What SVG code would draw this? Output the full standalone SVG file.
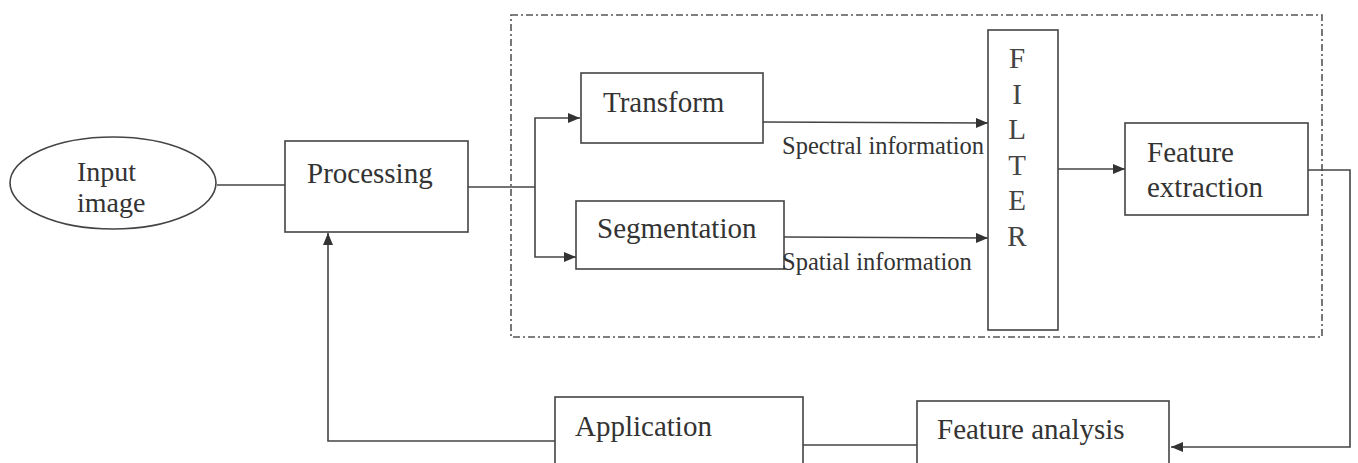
<svg xmlns="http://www.w3.org/2000/svg" width="1358" height="463" viewBox="0 0 1358 463">
<style>
.box{fill:#fff;stroke:#444;stroke-width:1.6}
.t{font-family:"Liberation Serif","Times New Roman",serif;font-size:29px;fill:#333}
.i{font-family:"Liberation Serif","Times New Roman",serif;font-size:28px;fill:#333}
.s{font-family:"Liberation Serif","Times New Roman",serif;font-size:24.5px;fill:#333}
.f{font-family:"Liberation Serif","Times New Roman",serif;font-size:29px;fill:#444;text-anchor:middle}
.ln{fill:none;stroke:#444;stroke-width:1.6}
.dash{fill:none;stroke:#555;stroke-width:1.6;stroke-dasharray:7 3 2 3}
</style>
<defs>
<marker id="arr" viewBox="0 0 12 10" refX="12" refY="5" markerWidth="12" markerHeight="10" markerUnits="userSpaceOnUse" orient="auto">
<path d="M0,0 L12,5 L0,10 z" fill="#333"/>
</marker>
</defs>
<rect class="dash" x="511" y="15" width="811" height="322"/>
<g id="connectors">
<line class="ln" x1="217" y1="185" x2="285" y2="185"/>
<polyline class="ln" points="468,187 535,187"/>
<polyline class="ln" points="535,187 535,118 580,118" marker-end="url(#arr)"/>
<polyline class="ln" points="535,187 535,257 576,257" marker-end="url(#arr)"/>
<line class="ln" x1="763" y1="122" x2="988" y2="123" marker-end="url(#arr)"/>
<line class="ln" x1="784" y1="237" x2="988" y2="238" marker-end="url(#arr)"/>
<line class="ln" x1="1058" y1="169" x2="1125" y2="169" marker-end="url(#arr)"/>
<polyline class="ln" points="1308,170 1350,170 1350,447 1171,447" marker-end="url(#arr)"/>
<line class="ln" x1="803" y1="445" x2="917" y2="445"/>
<polyline class="ln" points="555,441 328,441 328,233" marker-end="url(#arr)"/>
</g>
<g id="input-image">
<ellipse class="box" cx="113" cy="183" rx="103" ry="46"/>
<text class="i" x="77" y="181">Input</text>
<text class="i" x="77" y="212">image</text>
</g>
<g id="processing">
<rect class="box" x="285" y="141" width="183" height="91"/>
<text class="t" x="307" y="183">Processing</text>
</g>
<g id="transform">
<rect class="box" x="581" y="73" width="182" height="70"/>
<text class="t" x="603" y="112">Transform</text>
</g>
<g id="segmentation">
<rect class="box" x="576" y="201" width="208" height="68"/>
<text class="t" x="597" y="238">Segmentation</text>
</g>
<text class="s" x="782" y="154">Spectral information</text>
<text class="s" x="782" y="270">Spatial information</text>
<g id="filter">
<rect class="box" x="988" y="30" width="70" height="300"/>
<text class="f" x="1017" y="68">F</text>
<text class="f" x="1017" y="103.5">I</text>
<text class="f" x="1017" y="139">L</text>
<text class="f" x="1017" y="174.5">T</text>
<text class="f" x="1017" y="210">E</text>
<text class="f" x="1017" y="245.5">R</text>
</g>
<g id="feature-extraction">
<rect class="box" x="1125" y="123" width="183" height="92"/>
<text class="t" x="1147" y="162">Feature</text>
<text class="t" x="1147" y="197">extraction</text>
</g>
<g id="application">
<rect class="box" x="555" y="397" width="248" height="80"/>
<text class="t" x="575" y="436">Application</text>
</g>
<g id="feature-analysis">
<rect class="box" x="917" y="401" width="252" height="80"/>
<text class="t" x="937" y="439">Feature analysis</text>
</g>
</svg>
